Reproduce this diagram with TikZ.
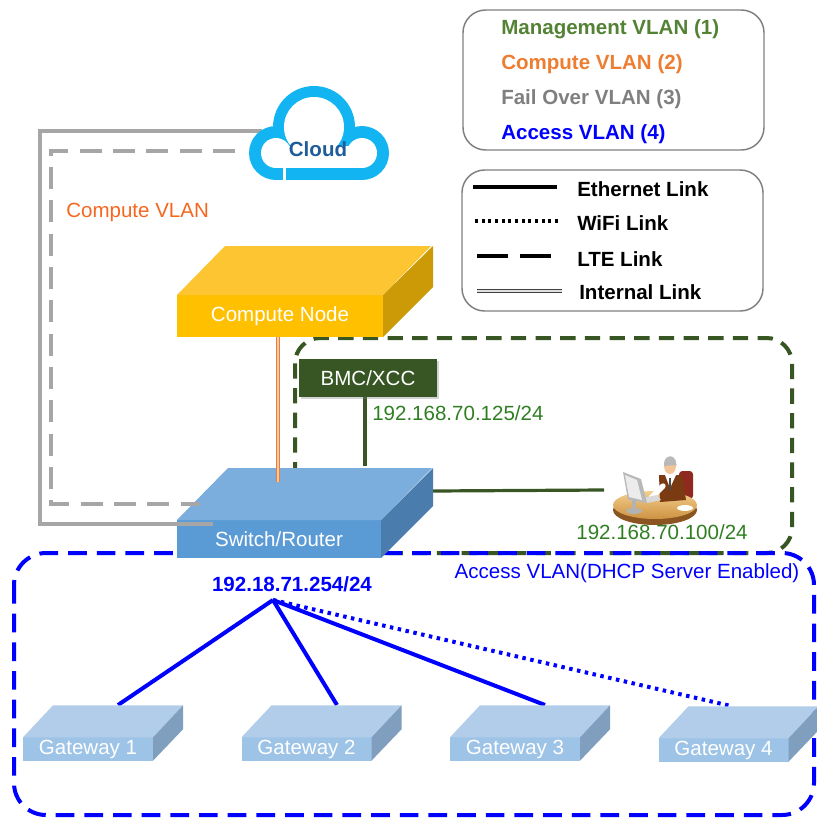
\documentclass[tikz,border=0pt]{standalone}
\usepackage{fontspec}
\setmainfont{Liberation Sans}
\usetikzlibrary{calc,shadows}

\definecolor{mgmtgreen}{HTML}{548235}
\definecolor{ipgreen}{HTML}{2F7F22}
\definecolor{boxgreen}{HTML}{375623}
\definecolor{legorange}{HTML}{ED7D31}
\definecolor{vlanorange}{HTML}{F5671E}
\definecolor{leggray}{HTML}{7F7F7F}
\definecolor{wiregray}{HTML}{A6A6A6}
\definecolor{cnfront}{HTML}{FFC000}
\definecolor{cntop}{HTML}{FDC532}
\definecolor{cnside}{HTML}{CC9A06}
\definecolor{swfront}{HTML}{5B9BD5}
\definecolor{swtop}{HTML}{7BAEDC}
\definecolor{swside}{HTML}{4A7DAD}
\definecolor{gwfront}{HTML}{9DC3E6}
\definecolor{gwtop}{HTML}{B1CDE9}
\definecolor{gwside}{HTML}{809FBF}
\definecolor{cloudcyan}{HTML}{12B5F2}
\definecolor{cloudtext}{HTML}{1F5C99}
\definecolor{chairred}{HTML}{8E2A1F}
\definecolor{vestbrown}{HTML}{7A3B12}
\definecolor{skin}{HTML}{F2C496}
\definecolor{deskdark}{HTML}{8A5520}
\definecolor{desklight}{HTML}{F3CE8C}
\definecolor{deskmid}{HTML}{CD9242}

\tikzset{
  txt/.style={font=\fontsize{15.4pt}{18pt}\selectfont, inner sep=0pt},
  btxt/.style={font=\fontsize{15.4pt}{18pt}\selectfont\bfseries, inner sep=0pt},
  legendbox/.style={draw=leggray, line width=1.1pt, rounded corners=17pt},
  face/.style={inner sep=0pt, outer sep=0pt, text=white,
               font=\fontsize{15.4pt}{18pt}\selectfont},
  mgmtbox/.style={draw=boxgreen, line width=3pt, dash pattern=on 11.5pt off 7pt, rounded corners=19pt},
  accessbox/.style={draw=blue, line width=3pt, dash pattern=on 14pt off 7.5pt, rounded corners=24pt},
  greenwire/.style={draw=boxgreen, line width=2.4pt},
  bluewire/.style={draw=blue, line width=3pt},
  bluewifi/.style={draw=blue, line width=3pt, dash pattern=on 2.6pt off 3.4pt},
  graysolid/.style={draw=wiregray, line width=2.3pt},
  graydashed/.style={draw=wiregray, line width=2.3pt, dash pattern=on 16.5pt off 8.5pt},
  internalorange/.style={draw=legorange, double=legorange!40, line width=0.8pt, double distance=0.9pt},
}

\begin{document}
\begin{tikzpicture}[x=0.75pt,y=-0.75pt]
\useasboundingbox (0,0) rectangle (817,818);

% ---------- VLAN regions ----------
\draw[mgmtbox] (295,338) rectangle (792,553);
\draw[accessbox] (14,553) rectangle (814,815);

% ---------- legend: VLANs ----------
\draw[legendbox] (463,10) rectangle (764,150);
\node[btxt, text=mgmtgreen, anchor=west] (lg1) at (501,29) {Management VLAN (1)};
\node[btxt, text=legorange, anchor=west] (lg2) at (501,64) {Compute VLAN (2)};
\node[btxt, text=leggray, anchor=west] (lg3) at (501,99) {Fail Over VLAN (3)};
\node[btxt, text=blue, anchor=west] (lg4) at (501,134) {Access VLAN (4)};

% ---------- legend: link types ----------
\draw[legendbox] (462,170) rectangle (763,311);
\coordinate (ethA) at (473,187); \coordinate (ethB) at (557,187);
\coordinate (wifA) at (475,221); \coordinate (wifB) at (558,221);
\coordinate (lteA) at (477,256); \coordinate (lteB) at (552,256);
\coordinate (intA) at (477,291); \coordinate (intB) at (562,291);
\draw[black, line width=2.6pt] (ethA) -- (ethB);
\draw[black, line width=2.3pt, dash pattern=on 2.3pt off 2.7pt] (wifA) -- (wifB);
\draw[black, line width=2.6pt, dash pattern=on 23.25pt off 9pt] (lteA) -- (lteB);
\draw[draw=black!75, double=gray!25, line width=0.7pt, double distance=0.9pt] (intA) -- (intB);
\node[btxt, anchor=west] (le1) at (577,189) {Ethernet Link};
\node[btxt, anchor=west] (le2) at (577,223) {WiFi Link};
\node[btxt, anchor=west] (le3) at (577,259) {LTE Link};
\node[btxt, anchor=west] (le4) at (579,292) {Internal Link};

% ---------- management wiring ----------
\coordinate (bmcb) at (365,397);
\coordinate (swbmc) at (365,466);
\coordinate (swpc) at (433,491);
\coordinate (pcl) at (604,490);
\draw[greenwire] (bmcb) -- (swbmc);
\draw[greenwire] (swpc) -- (pcl);

% ---------- switch / router ----------
\node[face, fill=swfront, minimum width=153pt, minimum height=28.5pt] (sw) at (279,539) {Switch/Router};
\fill[swtop] (sw.north west) -- ++(51,-52) -- ++(204,0) -- (sw.north east) -- cycle;
\fill[swside] (sw.north east) -- ++(52,-52) -- ++(0,38) -- (sw.south east) -- cycle;

% ---------- compute node ----------
\node[face, fill=cnfront, minimum width=154.5pt, minimum height=31.5pt] (cn) at (280,316) {Compute Node};
\fill[cntop] (cn.north west) -- ++(48,-49) -- ++(206,0) -- (cn.north east) -- cycle;
\fill[cnside] (cn.north east) -- ++(50,-49) -- ++(0,41) -- (cn.south east) -- cycle;

% internal compute link
\coordinate (cnb) at (278,337);
\coordinate (swcn) at (278,482);
\draw[internalorange] (cnb) -- (swcn);

% ---------- fail-over / compute uplinks to the cloud ----------
\coordinate (cls) at (262,131);
\coordinate (cld) at (235,151);
\coordinate (sws) at (213,524);
\coordinate (swd) at (200,504);
\draw[graysolid] (cls) -- (40,131) -- (40,524) -- (sws);
\draw[graydashed] (cld) -- (51,151) -- (51,504) -- (swd);
\node[txt, text=vlanorange, anchor=west] (cvlan) at (66,212) {Compute VLAN};

% ---------- cloud ----------
\begin{scope}
  \fill[cloudcyan] (314,127) circle[radius=30.75pt];
  \fill[cloudcyan] (276,153) circle[radius=20.25pt];
  \fill[cloudcyan] (362,153) circle[radius=20.25pt];
  \fill[cloudcyan] (276,140) rectangle (362,180);
  \fill[white] (314,127) circle[radius=22.5pt];
  \fill[white] (276,153) circle[radius=11.25pt];
  \fill[white] (362,153) circle[radius=11.25pt];
  \fill[white] (276,146) rectangle (362,168);
  \fill[white] (283,164) rectangle (286,182);
\end{scope}
\node[btxt, text=cloudtext] (cloud) at (318,149) {Cloud};

% ---------- BMC ----------
\node[face, fill=boxgreen, minimum width=103.5pt, minimum height=28.5pt,
      drop shadow={shadow xshift=1.5pt, shadow yshift=-1.5pt, opacity=0.35}] (bmc) at (368,378) {BMC/XCC};
\node[txt, text=ipgreen, anchor=west] (bmcip) at (372,413) {192.168.70.125/24};

% ---------- operator workstation ----------
\fill[chairred, rounded corners=2.5pt] (679,471) rectangle (693,499);
\fill[deskdark] (655,510) ellipse[x radius=31.5pt, y radius=11.25pt];
\shade[top color=desklight, bottom color=deskmid] (655,505) ellipse[x radius=31.5pt, y radius=10.5pt];
\fill[vestbrown] (659,475) -- (682,475) -- (686,500) -- (660,502) -- cycle;
\fill[white] (665,475) -- (676,475) -- (670,488) -- cycle;
\draw[black!70, line width=1pt] (670,478) -- (670,490);
\fill[skin] (670,466) ellipse[x radius=4.5pt, y radius=6pt];
\fill[gray!55] (664,464) arc[start angle=180, end angle=0, x radius=4.6pt, y radius=5.8pt] -- (677,465) -- (664,466) -- cycle;
\draw[white, line width=4pt, line cap=round] (663,486) -- (651,498);
\fill[gray!30] (643,498) -- (657,495) -- (661,500) -- (647,503) -- cycle;
\fill[gray!55] (623,472) -- (641,479) -- (647,503) -- (628,500) -- cycle;
\fill[gray!15] (625,475) -- (637,480) -- (642,500) -- (629,497) -- cycle;
\fill[gray!60] (634,511) ellipse[x radius=6pt, y radius=2.2pt];
\fill[gray!60] (632,500) rectangle (636,511);
\fill[white] (685,508) ellipse[x radius=6pt, y radius=2.2pt];
\node[txt, text=ipgreen] (pcip) at (662,532) {192.168.70.100/24};

% ---------- access VLAN ----------
\node[txt, text=blue] (acc) at (627,573) {Access VLAN(DHCP Server Enabled)};
\node[btxt, text=blue] (swip) at (292,584) {192.18.71.254/24};
\coordinate (hub) at (273,600);
\coordinate (g1t) at (118,705);
\coordinate (g2t) at (337,705);
\coordinate (g3t) at (545,705);
\coordinate (g4t) at (731,706);
\draw[bluewire] (hub) -- (g1t);
\draw[bluewire] (hub) -- (g2t);
\draw[bluewire] (hub) -- (g3t);
\draw[bluewifi] (hub) -- (g4t);

% ---------- gateways ----------
\foreach \n/\cx/\cy in {1/88/749, 2/306.5/749, 3/515/749, 4/723.5/750} {
  \node[face, fill=gwfront, minimum width=97.5pt, minimum height=17.5pt] (gw\n) at (\cx,\cy) {Gateway \n};
  \fill[gwtop] (gw\n.north west) -- ++(30,-32) -- ++(130,0) -- (gw\n.north east) -- cycle;
  \fill[gwside] (gw\n.north east) -- ++(30,-32) -- ++(0,24) -- (gw\n.south east) -- cycle;
}
\end{tikzpicture}
\end{document}
